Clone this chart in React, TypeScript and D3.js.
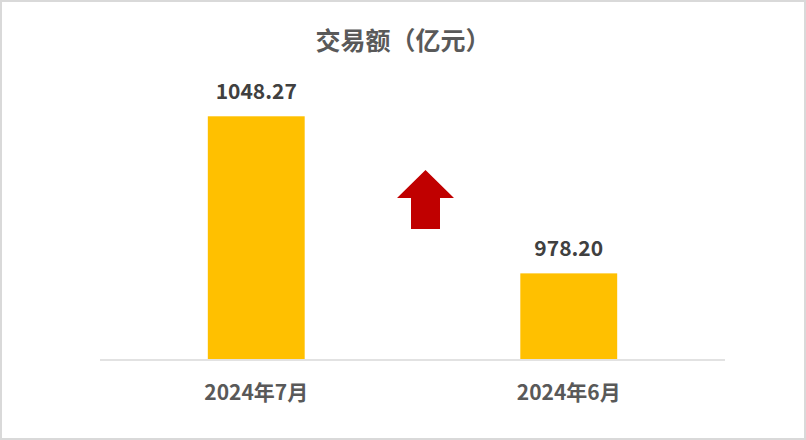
import React from "react";
import * as d3 from "d3";

const categories = ["2024年7月", "2024年6月"];
const values = [1048.27, 978.2];
const valueLabels = ["1048.27", "978.20"];
const title = "交易额（亿元）";

const W = 806;
const H = 440;
const FONT = "'Noto Sans CJK SC', 'Noto Sans', sans-serif";

export default function App() {
  const x = d3.scaleBand<string>().domain(categories).range([100, 725]).paddingInner(0.69).paddingOuter(0.345);
  const y = d3.scaleLinear().domain([940, 1060]).range([359, 90]);

  // decorative up arrow between bars
  const ax = 425.5;
  const arrow = d3.path();
  arrow.moveTo(ax, 170);
  arrow.lineTo(ax + 28.5, 198);
  arrow.lineTo(ax + 14.5, 198);
  arrow.lineTo(ax + 14.5, 229);
  arrow.lineTo(ax - 14.5, 229);
  arrow.lineTo(ax - 14.5, 198);
  arrow.lineTo(ax - 28.5, 198);
  arrow.closePath();

  return (
    <svg width={W} height={H} style={{ position: "absolute", left: 0, top: 0 }} fontFamily={FONT}>
      <rect x={1} y={1} width={W - 2} height={H - 2} fill="#fff" stroke="#d9d9d9" strokeWidth={2} />
      <text x={W / 2} y={50} textAnchor="middle" fontSize={25} fontWeight={700} fill="#595959">
        {title}
      </text>
      {categories.map((c, i) => (
        <g key={c}>
          <rect x={x(c)} y={y(values[i])} width={x.bandwidth()} height={y(940) - y(values[i])} fill="#FFC000" />
          <text x={(x(c) as number) + x.bandwidth() / 2} y={y(values[i]) - 17.5} textAnchor="middle" fontSize={21} fontWeight={700} fill="#404040">
            {valueLabels[i]}
          </text>
          <text x={(x(c) as number) + x.bandwidth() / 2} y={400} textAnchor="middle" fontSize={21} fontWeight={700} fill="#595959">
            {c}
          </text>
        </g>
      ))}
      <line x1={100} x2={725} y1={360} y2={360} stroke="#d9d9d9" strokeWidth={1.5} />
      <path d={arrow.toString()} fill="#C00000" />
    </svg>
  );
}
